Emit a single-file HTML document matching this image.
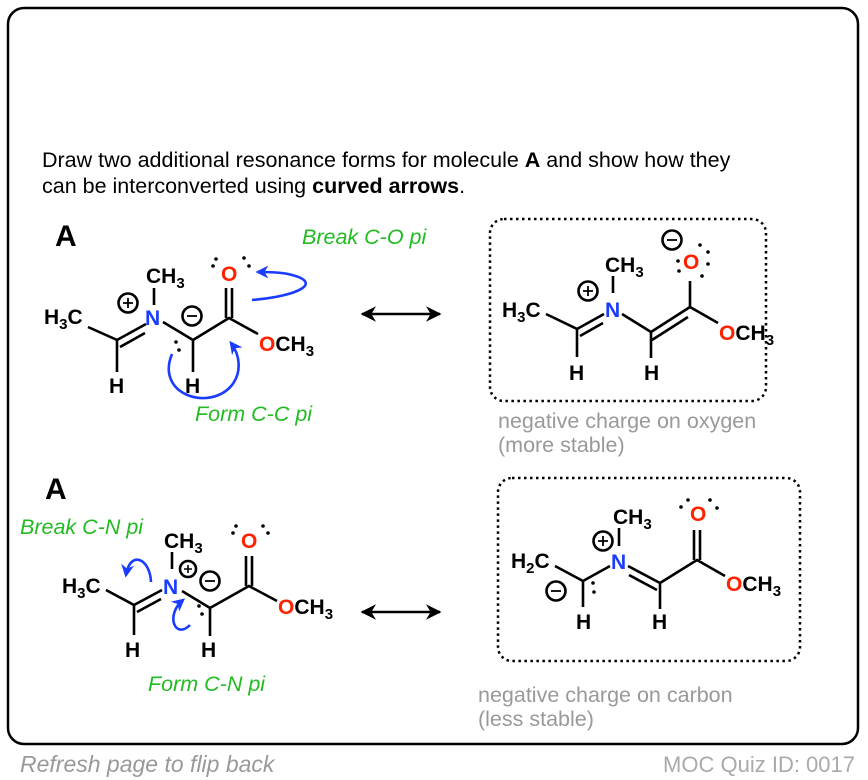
<!DOCTYPE html>
<html><head><meta charset="utf-8"><style>
html,body{margin:0;padding:0;background:#fff;}
svg{display:block;font-family:"Liberation Sans",Arial,sans-serif;}
.b{font-weight:bold;font-size:21px;}
.k{stroke:#000;stroke-width:2.6;fill:none;}
.bl{stroke:#1a3cff;stroke-width:2.6;fill:none;}
.g{fill:#22bb22;font-style:italic;font-size:21.5px;}
.gr{fill:#999;font-size:21.5px;}
</style></head><body>
<svg width="868" height="780" viewBox="0 0 868 780">
<defs>
<marker id="ah" viewBox="0 0 10 10" refX="8" refY="5" markerWidth="5" markerHeight="5" orient="auto"><path d="M0,0 L10,5 L0,10 L3,5 z" fill="#1a3cff"/></marker>
<marker id="bh" viewBox="0 0 10 10" refX="9" refY="5" markerWidth="6" markerHeight="6" orient="auto-start-reverse"><path d="M0,0 L10,5 L0,10 L3,5 z" fill="#000"/></marker>
</defs>
<rect x="8" y="8" width="850" height="736" rx="16" fill="none" stroke="#000" stroke-width="2.5"/>
<text x="42" y="167" font-size="21.5">Draw two additional resonance forms for molecule <tspan font-weight="bold">A</tspan> and show how they</text>
<text x="42" y="193" font-size="21.5">can be interconverted using <tspan font-weight="bold">curved arrows</tspan>.</text>

<!-- TOP LEFT -->
<text x="55" y="246" font-size="30" font-weight="bold">A</text>
<text class="g" x="302" y="244">Break C-O pi</text>
<text class="b" x="44" y="324">H<tspan font-size="15" dy="5">3</tspan><tspan dy="-5">C</tspan></text>
<path class="k" d="M88,327 L117,340 L117,372"/>
<path class="k" d="M117,340 L146,324 M120,347 L145,333"/>
<text class="b" x="145" y="325" fill="#1a3cff">N</text>
<path class="k" d="M154,288 L154,305"/>
<text class="b" x="146" y="283">CH<tspan font-size="15" dy="5">3</tspan></text>
<circle cx="128" cy="303" r="9.5" class="k" stroke-width="1.8"/><path d="M123,303 L133,303 M128,298 L128,308" stroke="#000" stroke-width="1.8"/>
<path class="k" d="M163,322 L193,340 L193,372 M193,340 L229,318 L258,334"/>
<circle cx="192" cy="316" r="9.5" class="k" stroke-width="1.8"/><path d="M187,316 L197,316" stroke="#000" stroke-width="1.8"/>
<path class="k" d="M226,318 L226,288 M232,318 L232,288"/>
<text class="b" x="221" y="281" fill="#ff2200">O</text>
<circle cx="213" cy="266" r="1.8"/><circle cx="216" cy="259" r="1.8"/><circle cx="244" cy="258" r="1.8"/><circle cx="249" cy="266" r="1.8"/>
<text class="b" x="259" y="351"><tspan fill="#ff2200">O</tspan>CH<tspan font-size="15" dy="5">3</tspan></text>
<text class="b" x="109" y="393">H</text><text class="b" x="185" y="393">H</text>
<circle cx="176" cy="342" r="1.8"/><circle cx="179" cy="350" r="1.8"/>
<path class="bl" d="M252,300 C300,296 325,282 288,274 C278,272 268,272 258,272" marker-end="url(#ah)"/>
<path class="bl" d="M172,354 C155,395 210,412 232,385 C242,372 240,355 231,343" marker-end="url(#ah)"/>
<text class="g" x="195" y="421">Form C-C pi</text>
<path d="M362,314 L440,314" stroke="#000" stroke-width="2.6" marker-start="url(#bh)" marker-end="url(#bh)"/>

<!-- TOP RIGHT -->
<rect x="490" y="219" width="276" height="182" rx="14" fill="none" stroke="#000" stroke-width="2.5" stroke-dasharray="2.5,3.5"/>
<text class="b" x="502" y="317">H<tspan font-size="15" dy="5">3</tspan><tspan dy="-5">C</tspan></text>
<path class="k" d="M546,314 L577,329 L577,357"/>
<path class="k" d="M577,329 L604,314 M580,336 L603,323"/>
<text class="b" x="605" y="317" fill="#1a3cff">N</text>
<path class="k" d="M613,276 L613,293"/>
<text class="b" x="605" y="272">CH<tspan font-size="15" dy="5">3</tspan></text>
<circle cx="588" cy="291" r="9.5" class="k" stroke-width="1.8"/><path d="M583,291 L593,291 M588,286 L588,296" stroke="#000" stroke-width="1.8"/>
<path class="k" d="M622,314 L651,332 L651,358 M651,332 L690,307 L690,281 M690,307 L718,323 M652,340 L688,317"/>
<text class="b" x="683" y="269" fill="#ff2200">O</text>
<circle cx="672" cy="240" r="9.5" class="k" stroke-width="1.8"/><path d="M667,240 L677,240" stroke="#000" stroke-width="1.8"/>
<circle cx="678" cy="261" r="1.8"/><circle cx="679" cy="271" r="1.8"/><circle cx="700" cy="245" r="1.8"/><circle cx="708" cy="252" r="1.8"/><circle cx="708" cy="264" r="1.8"/><circle cx="702" cy="276" r="1.8"/>
<text class="b" x="719" y="340"><tspan fill="#ff2200">O</tspan>CH<tspan font-size="15" dy="5">3</tspan></text>
<text class="b" x="569" y="380">H</text><text class="b" x="644" y="380">H</text>
<text class="gr" x="498" y="428">negative charge on oxygen</text>
<text class="gr" x="498" y="452">(more stable)</text>

<!-- BOTTOM LEFT -->
<text x="45" y="499" font-size="30" font-weight="bold">A</text>
<text class="g" x="20" y="534">Break C-N pi</text>
<text class="b" x="62" y="593">H<tspan font-size="15" dy="5">3</tspan><tspan dy="-5">C</tspan></text>
<path class="k" d="M106,590 L134,605 L134,635"/>
<path class="k" d="M134,605 L162,590 M137,612 L161,599"/>
<text class="b" x="163" y="594" fill="#1a3cff">N</text>
<path class="k" d="M172,552 L172,569"/>
<text class="b" x="164" y="548">CH<tspan font-size="15" dy="5">3</tspan></text>
<circle cx="188" cy="569" r="8" class="k" stroke-width="1.8"/><path d="M184,569 L192,569 M188,565 L188,573" stroke="#000" stroke-width="1.6"/>
<circle cx="210" cy="581" r="9.5" class="k" stroke-width="1.8"/><path d="M205,581 L215,581" stroke="#000" stroke-width="1.8"/>
<path class="k" d="M182,591 L210,608 L210,636 M210,608 L249,586 L277,601"/>
<path class="k" d="M246,586 L246,556 M252,586 L252,556"/>
<text class="b" x="241" y="548" fill="#ff2200">O</text>
<circle cx="233" cy="533" r="1.8"/><circle cx="236" cy="526" r="1.8"/><circle cx="263" cy="526" r="1.8"/><circle cx="268" cy="533" r="1.8"/>
<text class="b" x="278" y="614"><tspan fill="#ff2200">O</tspan>CH<tspan font-size="15" dy="5">3</tspan></text>
<text class="b" x="125" y="657">H</text><text class="b" x="201" y="657">H</text>
<circle cx="199" cy="606" r="1.8"/><circle cx="202" cy="614" r="1.8"/>
<path class="bl" d="M151,582 C150,558 130,550 126,575" marker-end="url(#ah)"/>
<path class="bl" d="M190,625 C175,640 165,615 183,600" marker-end="url(#ah)"/>
<text class="g" x="148" y="691">Form C-N pi</text>
<path d="M362,612 L440,612" stroke="#000" stroke-width="2.6" marker-start="url(#bh)" marker-end="url(#bh)"/>

<!-- BOTTOM RIGHT -->
<rect x="498" y="478" width="302" height="183" rx="14" fill="none" stroke="#000" stroke-width="2.5" stroke-dasharray="2.5,3.5"/>
<text class="b" x="511" y="568">H<tspan font-size="15" dy="5">2</tspan><tspan dy="-5">C</tspan></text>
<path class="k" d="M555,566 L583,581 L583,607 M583,581 L610,566"/>
<circle cx="556" cy="591" r="9.5" class="k" stroke-width="1.8"/><path d="M551,591 L561,591" stroke="#000" stroke-width="1.8"/>
<circle cx="593" cy="583" r="1.8"/><circle cx="594" cy="592" r="1.8"/>
<text class="b" x="611" y="569" fill="#1a3cff">N</text>
<path class="k" d="M619,528 L619,546"/>
<text class="b" x="613" y="524">CH<tspan font-size="15" dy="5">3</tspan></text>
<circle cx="603" cy="541" r="9.5" class="k" stroke-width="1.8"/><path d="M598,541 L608,541 M603,536 L603,546" stroke="#000" stroke-width="1.8"/>
<path class="k" d="M628,566 L660,583 M629,575 L657,590 M660,583 L660,609 M660,583 L697,560 L725,576"/>
<path class="k" d="M694,560 L694,530 M700,560 L700,530"/>
<text class="b" x="690" y="521" fill="#ff2200">O</text>
<circle cx="681" cy="507" r="1.8"/><circle cx="688" cy="500" r="1.8"/><circle cx="710" cy="500" r="1.8"/><circle cx="717" cy="508" r="1.8"/>
<text class="b" x="726" y="591"><tspan fill="#ff2200">O</tspan>CH<tspan font-size="15" dy="5">3</tspan></text>
<text class="b" x="576" y="629">H</text><text class="b" x="652" y="629">H</text>
<text class="gr" x="478" y="702">negative charge on carbon</text>
<text class="gr" x="478" y="726">(less stable)</text>

<text x="20" y="772" font-size="23" font-style="italic" fill="#999">Refresh page to flip back</text>
<text x="855" y="772" font-size="22" fill="#aaa" text-anchor="end">MOC Quiz ID: 0017</text>
</svg>
</body></html>
